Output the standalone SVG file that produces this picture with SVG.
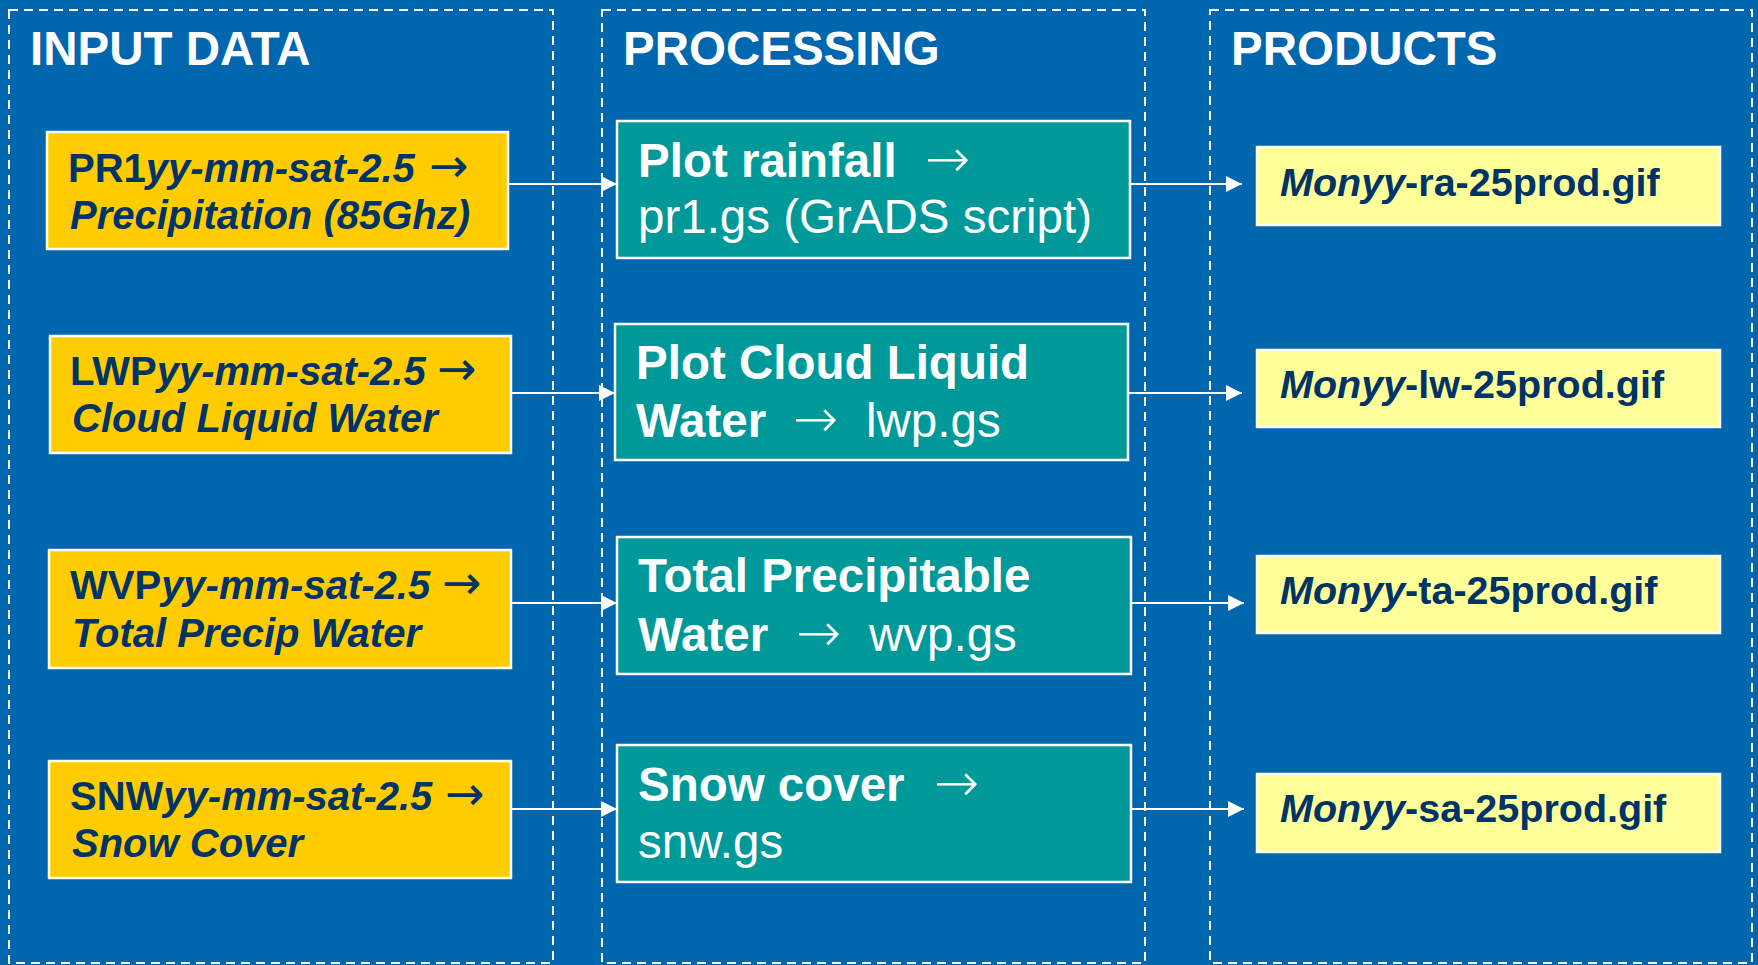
<svg xmlns="http://www.w3.org/2000/svg" width="1758" height="965" viewBox="0 0 1758 965">
<defs>
<style>
.col{fill:none;stroke:#fff;stroke-width:2;stroke-dasharray:9,6}
.title{font-family:"Liberation Sans",Arial,sans-serif;font-weight:bold;font-size:47.5px;fill:#fff}
.inbox{fill:#FFCC00;stroke:#fff;stroke-width:2.5}
.intext{font-family:"Liberation Sans",Arial,sans-serif;font-weight:bold;font-style:italic;font-size:40px;fill:#003366}
.up{font-style:normal}
.arr{font-family:"DejaVu Sans",sans-serif;font-style:normal;font-weight:normal}
.inarr{font-size:47px}
.prarr{font-size:54px;font-weight:200}
.prbox{fill:#009999;stroke:#fff;stroke-width:2.5}
.prtext{font-family:"Liberation Sans",Arial,sans-serif;font-size:47.5px;fill:#fff}
.b{font-weight:bold}
.outbox{fill:#FFFF99;stroke:#fff;stroke-width:2.5}
.outtext{font-family:"Liberation Sans",Arial,sans-serif;font-weight:bold;font-size:39.5px;fill:#003366}
.it{font-style:italic}
.conn{stroke:#fff;stroke-width:2;fill:none;marker-end:url(#ah)}
</style>
<marker id="ah" viewBox="0 0 16 16" refX="16" refY="8" markerWidth="16" markerHeight="16" markerUnits="userSpaceOnUse" orient="auto">
<path d="M0,0 L16,8 L0,16 Z" fill="#fff"/>
</marker>
</defs>
<rect x="0" y="0" width="1758" height="965" fill="#0066AE"/>

<g id="col-input">
<rect class="col" x="9" y="10" width="544" height="953"/>
<text class="title" x="30" y="65">INPUT DATA</text>
</g>
<g id="col-processing">
<rect class="col" x="602" y="10" width="543" height="953"/>
<text class="title" x="623" y="65">PROCESSING</text>
</g>
<g id="col-products">
<rect class="col" x="1210" y="10" width="542" height="953"/>
<text class="title" x="1231" y="65">PRODUCTS</text>
</g>

<g id="in-pr1">
<rect class="inbox" x="47" y="132" width="461" height="117"/>
<text class="intext" x="68" y="182"><tspan class="up">PR1</tspan>yy-mm-sat-2.5<tspan class="arr inarr" x="429">→</tspan></text>
<text class="intext" x="70" y="229">Precipitation (85Ghz)</text>
</g>
<g id="in-lwp">
<rect class="inbox" x="50" y="336" width="461" height="117"/>
<text class="intext" x="70" y="385"><tspan class="up">LWP</tspan>yy-mm-sat-2.5<tspan class="arr inarr" x="437">→</tspan></text>
<text class="intext" x="72" y="432">Cloud Liquid Water</text>
</g>
<g id="in-wvp">
<rect class="inbox" x="49" y="550" width="462" height="118"/>
<text class="intext" x="70" y="599"><tspan class="up">WVP</tspan>yy-mm-sat-2.5<tspan class="arr inarr" x="442">→</tspan></text>
<text class="intext" x="72" y="647">Total Precip Water</text>
</g>
<g id="in-snw">
<rect class="inbox" x="49" y="761" width="462" height="117"/>
<text class="intext" x="70" y="810"><tspan class="up">SNW</tspan>yy-mm-sat-2.5<tspan class="arr inarr" x="445">→</tspan></text>
<text class="intext" x="72" y="857">Snow Cover</text>
</g>

<g id="proc-pr1">
<rect class="prbox" x="617" y="121" width="513" height="137"/>
<text class="prtext" x="638" y="177"><tspan class="b">Plot rainfall</tspan><tspan class="arr prarr" x="925">→</tspan></text>
<text class="prtext" x="638" y="233">pr1.gs (GrADS script)</text>
</g>
<g id="proc-lwp">
<rect class="prbox" x="615" y="324" width="513" height="136"/>
<text class="prtext b" x="636" y="379">Plot Cloud Liquid</text>
<text class="prtext" x="636" y="437"><tspan class="b">Water</tspan><tspan class="arr prarr" x="793">→</tspan><tspan x="866">lwp.gs</tspan></text>
</g>
<g id="proc-wvp">
<rect class="prbox" x="617" y="537" width="514" height="137"/>
<text class="prtext b" x="638" y="592">Total Precipitable</text>
<text class="prtext" x="638" y="651"><tspan class="b">Water</tspan><tspan class="arr prarr" x="796">→</tspan><tspan x="869">wvp.gs</tspan></text>
</g>
<g id="proc-snw">
<rect class="prbox" x="617" y="745" width="514" height="137"/>
<text class="prtext" x="638" y="801"><tspan class="b">Snow cover</tspan><tspan class="arr prarr" x="934">→</tspan></text>
<text class="prtext" x="638" y="858">snw.gs</text>
</g>

<g id="out-ra">
<rect class="outbox" x="1257" y="147" width="463" height="78"/>
<text class="outtext" x="1280" y="196"><tspan class="it">Monyy</tspan>-ra-25prod.gif</text>
</g>
<g id="out-lw">
<rect class="outbox" x="1257" y="350" width="463" height="77"/>
<text class="outtext" x="1280" y="398"><tspan class="it">Monyy</tspan>-lw-25prod.gif</text>
</g>
<g id="out-ta">
<rect class="outbox" x="1257" y="556" width="463" height="77"/>
<text class="outtext" x="1280" y="604"><tspan class="it">Monyy</tspan>-ta-25prod.gif</text>
</g>
<g id="out-sa">
<rect class="outbox" x="1257" y="774" width="463" height="78"/>
<text class="outtext" x="1280" y="822"><tspan class="it">Monyy</tspan>-sa-25prod.gif</text>
</g>

<g id="connectors">
<line class="conn" x1="508" y1="184" x2="617" y2="184"/>
<line class="conn" x1="511" y1="393" x2="615" y2="393"/>
<line class="conn" x1="511" y1="603" x2="617" y2="603"/>
<line class="conn" x1="511" y1="809" x2="617" y2="809"/>
<line class="conn" x1="1130" y1="184" x2="1242" y2="184"/>
<line class="conn" x1="1128" y1="393" x2="1242" y2="393"/>
<line class="conn" x1="1131" y1="603" x2="1244" y2="603"/>
<line class="conn" x1="1131" y1="809" x2="1244" y2="809"/>
</g>
</svg>
